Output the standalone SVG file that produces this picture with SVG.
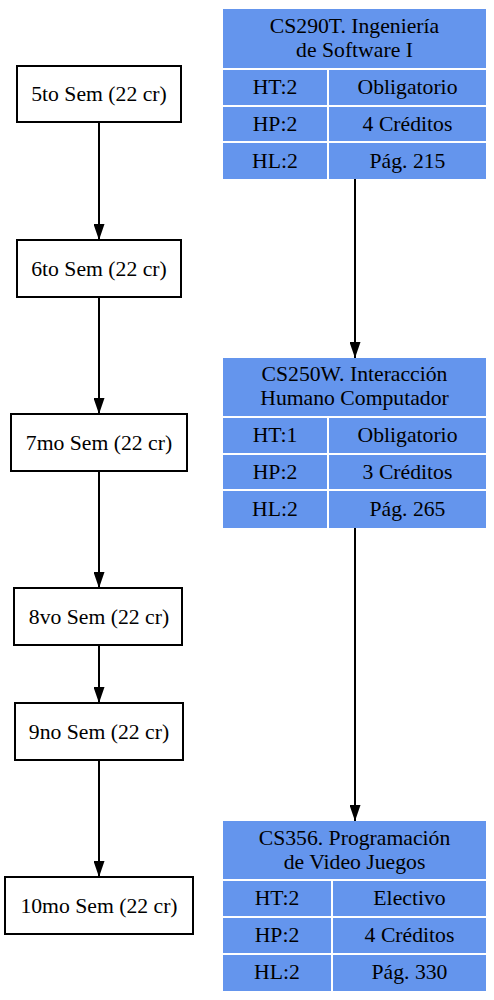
<svg xmlns="http://www.w3.org/2000/svg" width="494" height="1000" viewBox="0 0 494 1000">
<style>
text{font-family:"Liberation Serif","Times New Roman",serif;font-size:21.7px;fill:#000;text-anchor:middle}
.sem{fill:#fff;stroke:#000;stroke-width:2}
.cell{fill:#6495ed}
.edge{stroke:#000;stroke-width:2;fill:none}
</style>
<defs>
<marker id="ah" viewBox="0 0 16 11" refX="16" refY="5.5" markerWidth="16" markerHeight="11" markerUnits="userSpaceOnUse" orient="auto">
<path d="M0,0 L16,5.5 L0,11 z" fill="#000"/>
</marker>
</defs>
<rect width="494" height="1000" fill="#fff"/>
<g id="edges">
<line class="edge" x1="99" y1="122" x2="99" y2="240" marker-end="url(#ah)"/>
<line class="edge" x1="99" y1="297" x2="99" y2="414" marker-end="url(#ah)"/>
<line class="edge" x1="99" y1="471" x2="99" y2="588" marker-end="url(#ah)"/>
<line class="edge" x1="99" y1="645" x2="99" y2="703" marker-end="url(#ah)"/>
<line class="edge" x1="99" y1="760" x2="99" y2="877" marker-end="url(#ah)"/>
<line class="edge" x1="355" y1="179" x2="355" y2="358" marker-end="url(#ah)"/>
<line class="edge" x1="355" y1="528" x2="355" y2="821" marker-end="url(#ah)"/>
</g>
<g id="sem5"><rect class="sem" x="17" y="66" width="164" height="56"/><text x="99" y="101">5to Sem (22 cr)</text></g>
<g id="sem6"><rect class="sem" x="17" y="240" width="164" height="57"/><text x="99" y="276">6to Sem (22 cr)</text></g>
<g id="sem7"><rect class="sem" x="11" y="414" width="176" height="57"/><text x="99" y="450">7mo Sem (22 cr)</text></g>
<g id="sem8"><rect class="sem" x="14" y="588" width="168" height="57"/><text x="99" y="624">8vo Sem (22 cr)</text></g>
<g id="sem9"><rect class="sem" x="15" y="703" width="168" height="57"/><text x="99" y="739">9no Sem (22 cr)</text></g>
<g id="sem10"><rect class="sem" x="5" y="877" width="188" height="57"/><text x="99" y="913">10mo Sem (22 cr)</text></g>
<g id="CS290T">
<rect class="cell" x="223" y="9" width="263" height="59"/>
<text x="354.5" y="33">CS290T. Ingeniería</text>
<text x="354.5" y="57">de Software I</text>
<rect class="cell" x="223" y="70" width="104" height="35"/>
<rect class="cell" x="329" y="70" width="157" height="35"/>
<rect class="cell" x="223" y="107" width="104" height="34"/>
<rect class="cell" x="329" y="107" width="157" height="34"/>
<rect class="cell" x="223" y="143" width="104" height="36"/>
<rect class="cell" x="329" y="143" width="157" height="36"/>
<text x="275" y="94">HT:2</text><text x="407.5" y="94">Obligatorio</text>
<text x="275" y="131">HP:2</text><text x="407.5" y="131">4 Créditos</text>
<text x="275" y="168">HL:2</text><text x="407.5" y="168">Pág. 215</text>
</g>
<g id="CS250W">
<rect class="cell" x="223" y="358" width="263" height="58"/>
<text x="354.5" y="381">CS250W. Interacción</text>
<text x="354.5" y="405">Humano Computador</text>
<rect class="cell" x="223" y="418" width="104" height="35"/>
<rect class="cell" x="329" y="418" width="157" height="35"/>
<rect class="cell" x="223" y="455" width="104" height="34"/>
<rect class="cell" x="329" y="455" width="157" height="34"/>
<rect class="cell" x="223" y="491" width="104" height="37"/>
<rect class="cell" x="329" y="491" width="157" height="37"/>
<text x="275" y="442">HT:1</text><text x="407.5" y="442">Obligatorio</text>
<text x="275" y="479">HP:2</text><text x="407.5" y="479">3 Créditos</text>
<text x="275" y="516">HL:2</text><text x="407.5" y="516">Pág. 265</text>
</g>
<g id="CS356">
<rect class="cell" x="223" y="821" width="263" height="58"/>
<text x="354.5" y="845">CS356. Programación</text>
<text x="354.5" y="869">de Video Juegos</text>
<rect class="cell" x="223" y="881" width="108" height="35"/>
<rect class="cell" x="333" y="881" width="153" height="35"/>
<rect class="cell" x="223" y="918" width="108" height="35"/>
<rect class="cell" x="333" y="918" width="153" height="35"/>
<rect class="cell" x="223" y="955" width="108" height="36"/>
<rect class="cell" x="333" y="955" width="153" height="36"/>
<text x="277" y="905">HT:2</text><text x="409.5" y="905">Electivo</text>
<text x="277" y="942">HP:2</text><text x="409.5" y="942">4 Créditos</text>
<text x="277" y="979">HL:2</text><text x="409.5" y="979">Pág. 330</text>
</g>
</svg>
